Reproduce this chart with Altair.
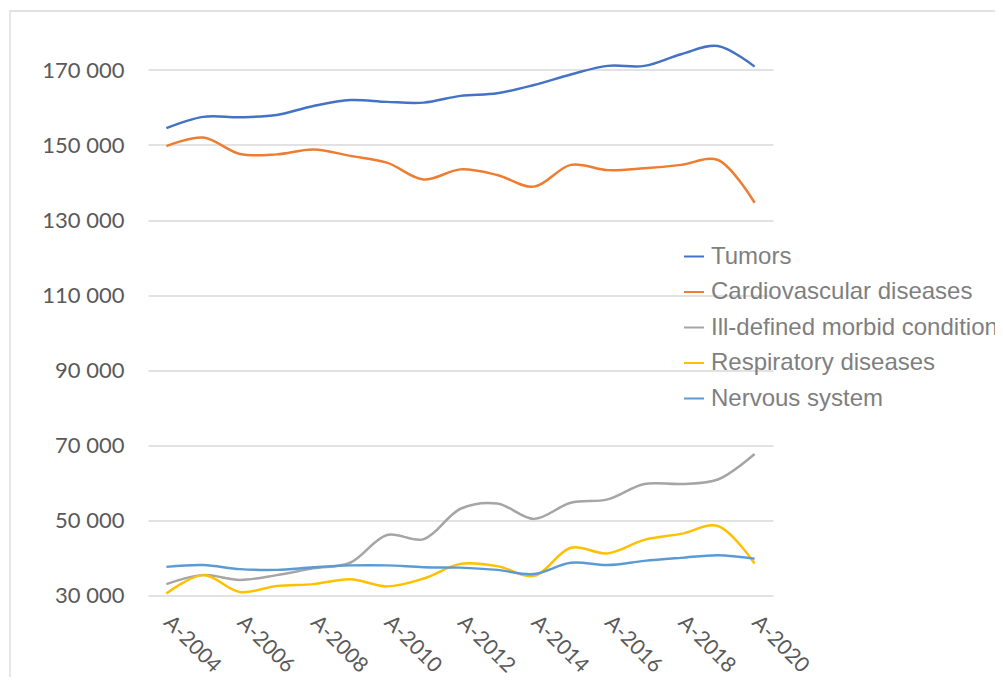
import altair as alt
import pandas as pd

years = list(range(2004, 2021))
series_names = ["Tumors", "Cardiovascular diseases", "Ill-defined morbid conditions",
                "Respiratory diseases", "Nervous system"]
colors = ["#4472C4", "#ED7D31", "#A5A5A5", "#FFC000", "#5B9BD5"]

tumors = [154500, 157500, 157400, 158000, 160400, 162000, 161500, 161300, 163100,
          163800, 166000, 168800, 171100, 171100, 174200, 176400, 170900]
cardio = [149700, 152000, 147600, 147500, 148800, 147100, 145300, 140800, 143500,
          142000, 138900, 144700, 143300, 143800, 144700, 146000, 134600]
illdef = [32900, 35300, 34000, 35300, 37100, 38600, 46000, 44900, 53000,
          54400, 50300, 54600, 55500, 59600, 59600, 60800, 67600]
resp = [30400, 35300, 30800, 32400, 32900, 34200, 32300, 34400, 38300,
        37700, 35100, 42600, 41100, 44700, 46300, 48400, 38400]
nervous = [37500, 38000, 36900, 36700, 37400, 37900, 37900, 37400, 37300,
           36700, 35600, 38600, 38000, 39100, 39900, 40600, 39700]

tick_years = list(range(2004, 2021, 2))
y_ticks = list(range(30000, 180000, 20000))

rows = []
for name, vals in zip(series_names, [tumors, cardio, illdef, resp, nervous]):
    for yr, v in zip(years, vals):
        rows.append({"year": yr, "value": v, "series": name,
                     "order": series_names.index(name)})
df = pd.DataFrame(rows)

W, H = 625, 562.5

lines = alt.Chart(df).mark_line(interpolate="catmull-rom", strokeWidth=2.5).encode(
    x=alt.X("year:Q", scale=alt.Scale(domain=[2003.5, 2020.5], nice=False, zero=False),
            axis=alt.Axis(values=tick_years, labelExpr="'A-' + datum.value", grid=False,
                          ticks=False, domain=False, labelAngle=45, labelAlign="left",
                          labelBaseline="middle", labelPadding=24, labelFontSize=21,
                          labelColor="#595959", labelFont="Lato", title=None, labelFlush=False,
                          labelOverlap=False)),
    y=alt.Y("value:Q", scale=alt.Scale(domain=[30000, 180000], nice=False, zero=False),
            axis=alt.Axis(values=y_ticks,
                          labelExpr="replace(format(datum.value, ','), ',', ' ')",
                          grid=True, gridColor="#D9D9D9", gridWidth=1.3, ticks=False,
                          domain=False, labelPadding=24, labelFontSize=22,
                          labelColor="#595959", labelFont="Lato", title=None)),
    color=alt.Color("series:N", scale=alt.Scale(domain=series_names, range=colors),
                    legend=alt.Legend(orient="none", legendX=534, legendY=212, title=None,
                                      symbolType="stroke", symbolSize=400,
                                      symbolStrokeWidth=2, labelFontSize=24,
                                      labelFont="Liberation Sans", labelColor="#7F7F7F",
                                      rowPadding=11.5, labelOffset=5, padding=0,
                                      labelLimit=500)),
    order=alt.Order("order:Q"),
)

frame = alt.Chart(pd.DataFrame({"k": [0]})).mark_rect(
    fill=None, stroke="#D9D9D9", strokeWidth=1.3, clip=False
).encode(x=alt.value(-138), x2=alt.value(1100), y=alt.value(-21.5), y2=alt.value(900))

chart = alt.layer(frame, lines).properties(
    width=W, height=H,
    autosize=alt.AutoSizeParams(type="none"),
    padding={"left": 140, "top": 24.5, "right": 222, "bottom": 82},
).configure(background="white").configure_view(strokeWidth=0, stroke="transparent")

chart.save("out.html", embed_options={"renderer": "svg", "actions": False})
